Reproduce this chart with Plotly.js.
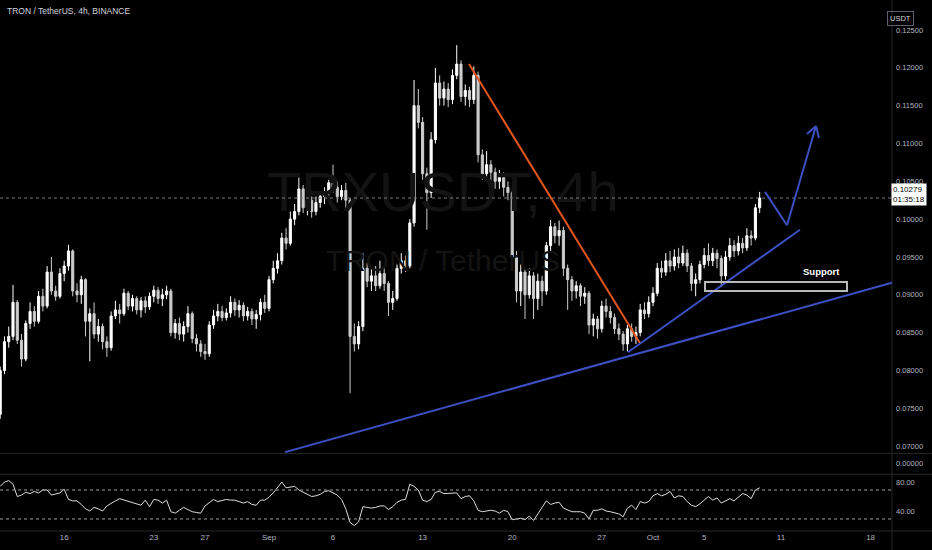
<!DOCTYPE html>
<html>
<head>
<meta charset="utf-8">
<script src="https://cdn.plot.ly/plotly-3.0.1.min.js"></script>
<style>html,body{margin:0;padding:0;background:#000;}#chart{width:932px;height:550px;}</style>
</head>
<body>
<div id="chart"></div>
<script>
// 8h candles, TRX/USDT, starting 2021-08-11 00:00, 3 per day
const startTime = '2021-08-11T00:00:00Z';
const stepHours = 8;

const openP = [
0.0742,0.0800,0.0838, 0.0845,0.0890,0.0840, 0.0815,0.0862,0.0878, 0.0865,0.0898,0.0885,
0.0930,0.0905,0.0898, 0.0928,0.0938,0.0958, 0.0905,0.0900,0.0920, 0.0865,0.0875,0.0848,
0.0858,0.0838,0.0830, 0.0872,0.0880,0.0875, 0.0902,0.0885,0.0895, 0.0880,0.0892,0.0884,
0.0898,0.0906,0.0895, 0.0900,0.0905,0.0850, 0.0862,0.0848,0.0858, 0.0875,0.0842,0.0835,
0.0825,0.0822,0.0860, 0.0872,0.0878,0.0870, 0.0876,0.0890,0.0880, 0.0886,0.0872,0.0878,
0.0868,0.0874,0.0890, 0.0882,0.0920,0.0935, 0.0945,0.0975,0.0968, 0.1000,0.1010,0.1040,
0.1015,0.1025,0.1010, 0.1022,0.1030,0.1035, 0.1048,0.1042,0.1030, 0.1038,0.1025,0.0845,
0.0835,0.0858,0.0935, 0.0918,0.0925,0.0912, 0.0928,0.0915,0.0890, 0.0895,0.0935,0.0945,
0.0938,0.0995,0.1150, 0.1128,0.1060,0.1035, 0.1105,0.1180,0.1160, 0.1172,0.1158,0.1190,
0.1205,0.1162,0.1170, 0.1158,0.1190,0.1085, 0.1060,0.1072,0.1062, 0.1050,0.1055,0.1042,
0.1035,0.0950,0.0905, 0.0930,0.0900,0.0925, 0.0895,0.0918,0.0905, 0.0965,0.0990,0.0978,
0.0985,0.0935,0.0920, 0.0905,0.0912,0.0898, 0.0902,0.0860,0.0868, 0.0855,0.0885,0.0878,
0.0870,0.0855,0.0848, 0.0835,0.0855,0.0845, 0.0850,0.0880,0.0875, 0.0890,0.0902,0.0935,
0.0930,0.0945,0.0938, 0.0950,0.0942,0.0955, 0.0938,0.0915,0.0920, 0.0940,0.0952,0.0945,
0.0955,0.0948,0.0925, 0.0950,0.0965,0.0958, 0.0968,0.0962,0.0978, 0.0975,0.1015
];
const highP = [
0.0805,0.0845,0.0858, 0.0913,0.0893,0.0848, 0.0866,0.0890,0.0885, 0.0905,0.0908,0.0938,
0.0950,0.0912,0.0935, 0.0945,0.0966,0.0960, 0.0915,0.0925,0.0922, 0.0882,0.0890,0.0868,
0.0862,0.0845,0.0878, 0.0892,0.0888,0.0908, 0.0905,0.0900,0.0898, 0.0897,0.0898,0.0903,
0.0912,0.0910,0.0908, 0.0912,0.0908,0.0868, 0.0870,0.0865,0.0885, 0.0878,0.0848,0.0840,
0.0835,0.0865,0.0880, 0.0888,0.0885,0.0882, 0.0898,0.0895,0.0893, 0.0890,0.0884,0.0882,
0.0880,0.0895,0.0900, 0.0925,0.0945,0.0955, 0.0982,0.0988,0.1010, 0.1020,0.1055,0.1045,
0.1032,0.1030,0.1030, 0.1035,0.1042,0.1052, 0.1072,0.1050,0.1045, 0.1048,0.1028,0.0862,
0.0865,0.0955,0.0942, 0.0935,0.0938,0.0945, 0.0935,0.0918,0.0905, 0.0940,0.0955,0.0952,
0.1000,0.1184,0.1172, 0.1135,0.1068,0.1115, 0.1200,0.1190,0.1182, 0.1180,0.1198,0.1230,
0.1210,0.1178,0.1175, 0.1202,0.1195,0.1092, 0.1090,0.1078,0.1068, 0.1065,0.1062,0.1050,
0.1038,0.0958,0.0940, 0.0935,0.0935,0.0930, 0.0928,0.0925,0.0970, 0.0999,0.0995,0.0998,
0.0990,0.0940,0.0925, 0.0918,0.0915,0.0910, 0.0905,0.0875,0.0872, 0.0892,0.0895,0.0885,
0.0875,0.0862,0.0852, 0.0860,0.0862,0.0858, 0.0888,0.0890,0.0898, 0.0910,0.0942,0.0945,
0.0955,0.0958,0.0960, 0.0962,0.0965,0.0960, 0.0942,0.0928,0.0945, 0.0962,0.0968,0.0962,
0.0960,0.0952,0.0958, 0.0975,0.0972,0.0978, 0.0975,0.0988,0.0985, 0.1020,0.1036
];
const lowP = [
0.0736,0.0795,0.0830, 0.0840,0.0835,0.0805, 0.0812,0.0855,0.0858, 0.0862,0.0878,0.0882,
0.0900,0.0892,0.0895, 0.0918,0.0932,0.0898, 0.0890,0.0888,0.0845, 0.0812,0.0842,0.0838,
0.0828,0.0818,0.0826, 0.0868,0.0862,0.0872, 0.0880,0.0878,0.0874, 0.0870,0.0876,0.0880,
0.0890,0.0888,0.0885, 0.0894,0.0845,0.0842, 0.0840,0.0838,0.0850, 0.0836,0.0825,0.0818,
0.0814,0.0818,0.0855, 0.0865,0.0865,0.0866, 0.0870,0.0872,0.0870, 0.0865,0.0866,0.0860,
0.0855,0.0866,0.0876, 0.0878,0.0915,0.0928, 0.0940,0.0960,0.0965, 0.0992,0.1005,0.1008,
0.1005,0.1002,0.1005, 0.1015,0.1020,0.1030, 0.1035,0.1022,0.1025, 0.1015,0.0770,0.0825,
0.0828,0.0852,0.0910, 0.0905,0.0905,0.0908, 0.0905,0.0872,0.0880, 0.0892,0.0928,0.0930,
0.0935,0.0990,0.1120, 0.1052,0.0986,0.1028, 0.1100,0.1150,0.1150, 0.1148,0.1152,0.1185,
0.1155,0.1150,0.1148, 0.1152,0.1075,0.1052, 0.1055,0.1050,0.1040, 0.1040,0.1030,0.1025,
0.0940,0.0890,0.0885, 0.0868,0.0895,0.0868, 0.0880,0.0885,0.0900, 0.0958,0.0968,0.0965,
0.0925,0.0880,0.0892, 0.0895,0.0885,0.0888, 0.0848,0.0845,0.0842, 0.0850,0.0870,0.0862,
0.0848,0.0840,0.0826, 0.0825,0.0838,0.0835, 0.0845,0.0868,0.0870, 0.0885,0.0898,0.0922,
0.0925,0.0930,0.0932, 0.0935,0.0938,0.0930, 0.0905,0.0898,0.0915, 0.0935,0.0938,0.0938,
0.0935,0.0910,0.0920, 0.0945,0.0950,0.0952, 0.0955,0.0958,0.0965, 0.0972,0.1008
];
const closeP = [
0.0800,0.0838,0.0845, 0.0890,0.0840,0.0815, 0.0862,0.0878,0.0865, 0.0898,0.0885,0.0930,
0.0905,0.0898,0.0928, 0.0938,0.0958,0.0905, 0.0900,0.0920,0.0865, 0.0875,0.0848,0.0858,
0.0838,0.0830,0.0872, 0.0880,0.0875,0.0902, 0.0885,0.0895,0.0880, 0.0892,0.0884,0.0898,
0.0906,0.0895,0.0900, 0.0905,0.0850,0.0862, 0.0848,0.0858,0.0875, 0.0842,0.0835,0.0825,
0.0822,0.0860,0.0872, 0.0878,0.0870,0.0876, 0.0890,0.0880,0.0886, 0.0872,0.0878,0.0868,
0.0874,0.0890,0.0882, 0.0920,0.0935,0.0945, 0.0975,0.0968,0.1000, 0.1010,0.1040,0.1015,
0.1025,0.1010,0.1022, 0.1030,0.1035,0.1048, 0.1042,0.1030,0.1038, 0.1025,0.0845,0.0835,
0.0858,0.0935,0.0918, 0.0925,0.0912,0.0928, 0.0915,0.0890,0.0895, 0.0935,0.0945,0.0938,
0.0995,0.1150,0.1128, 0.1060,0.1035,0.1105, 0.1180,0.1160,0.1172, 0.1158,0.1190,0.1205,
0.1162,0.1170,0.1158, 0.1190,0.1085,0.1060, 0.1072,0.1062,0.1050, 0.1055,0.1042,0.1035,
0.0950,0.0905,0.0930, 0.0900,0.0925,0.0895, 0.0918,0.0905,0.0965, 0.0990,0.0978,0.0985,
0.0935,0.0920,0.0905, 0.0912,0.0898,0.0902, 0.0860,0.0868,0.0855, 0.0885,0.0878,0.0870,
0.0855,0.0848,0.0835, 0.0855,0.0845,0.0850, 0.0880,0.0875,0.0890, 0.0902,0.0935,0.0930,
0.0945,0.0938,0.0950, 0.0942,0.0955,0.0938, 0.0915,0.0920,0.0940, 0.0952,0.0945,0.0955,
0.0948,0.0925,0.0950, 0.0965,0.0958,0.0968, 0.0962,0.0978,0.0975, 0.1015,0.10279
];
const rsiVals = [
75,81,83,78,61,63,67,65,68,66,70,
70,63,64,66,71,57,55,55,50,44,
41,46,44,41,48,52,55,58,56,54,
53,51,49,56,47,57,56,52,56,40,
38,42,46,43,40,39,38,48,53,57,
54,55,57,56,56,54,52,54,50,49,
56,56,60,66,73,81,73,74,75,70,
67,65,61,62,64,68,69,66,63,57,
44,25,21,26,47,46,45,46,48,48,
43,47,53,56,57,78,75,70,56,54,
57,67,68,65,65,66,66,58,
61,62,55,42,40,41,42,41,38,42,40,29,
30,31,29,34,28,38,46,55,50,52,
53,45,42,40,40,40,38,30,42,42,
44,41,40,39,37,33,45,49,43,54,
52,54,62,65,62,64,68,59,62,61,
54,49,47,51,56,61,56,59,52,55,
58,55,60,65,63,58,70,73
];
const tickDates = ['2021-08-16','2021-08-23','2021-08-27','2021-09-01','2021-09-06','2021-09-13','2021-09-20','2021-09-27','2021-10-01','2021-10-05','2021-10-11','2021-10-18'];
const tickLabels = ['16','23','27','Sep','6','13','20','27','Oct','5','11','18'];
const lastPrice = 0.10279;
const countdown = '01:35:18';

// time grid of the candles
const t0 = Date.parse(startTime);
const times = closeP.map((_, i) => new Date(t0 + i * stepHours * 3600000).toISOString().slice(0, 16).replace('T', ' '));

const fontFam = 'Liberation Sans, Arial, sans-serif';
const axisCol = '#b2b5be';
const blue = '#3d50c3';
const orange = '#e2561e';
const sep = '#262626';
const wmCol = '#131313';

const traces = [
  // watermark, drawn beneath the candles
  {
    type: 'scatter', mode: 'text', xaxis: 'x', yaxis: 'y',
    x: ['2021-09-14 14:00', '2021-09-14 14:00'], y: [0.10292, 0.09420],
    text: ['TRXUSDT, 4h', 'TRON / TetherUS'],
    textfont: {family: fontFam, size: [56, 30], color: wmCol},
    textposition: 'middle center', showlegend: false, hoverinfo: 'skip'
  },
  {
    type: 'candlestick', x: times, open: openP, high: highP, low: lowP, close: closeP,
    xaxis: 'x', yaxis: 'y',
    increasing: {line: {color: '#ffffff', width: 1}, fillcolor: '#ffffff'},
    decreasing: {line: {color: '#cdcdcd', width: 1}, fillcolor: '#cdcdcd'},
    whiskerwidth: 0, showlegend: false, hoverinfo: 'skip'
  },
  {
    type: 'scatter', mode: 'lines', x: times, y: rsiVals, xaxis: 'x', yaxis: 'y3',
    line: {color: '#dcdcdc', width: 1}, showlegend: false, hoverinfo: 'skip'
  },
  // invisible trace so the middle pane axis is drawn
  {type: 'scatter', mode: 'lines', x: [times[0]], y: [0], xaxis: 'x', yaxis: 'y2', line: {color: 'rgba(0,0,0,0)'}, showlegend: false, hoverinfo: 'skip'}
];

function ln(x0, y0, x1, y1, color, w, extra) {
  return Object.assign({type: 'line', xref: 'x', yref: 'y', x0, y0, x1, y1, line: {color, width: w}}, extra || {});
}

const shapes = [
  // last price dotted line
  {type: 'line', xref: 'paper', yref: 'y', x0: 0, x1: 1, y0: lastPrice, y1: lastPrice, line: {color: '#7a7a7a', width: 1, dash: 'dot'}},
  // pane separators
  {type: 'line', xref: 'paper', yref: 'paper', x0: 0, x1: 1.05, y0: 0.146, y1: 0.146, line: {color: sep, width: 1}},
  {type: 'line', xref: 'paper', yref: 'paper', x0: 0, x1: 1.05, y0: 0.107, y1: 0.107, line: {color: sep, width: 1}},
  {type: 'line', xref: 'paper', yref: 'paper', x0: 0, x1: 1.05, y0: 0, y1: 0, line: {color: sep, width: 1}},
  {type: 'line', xref: 'paper', yref: 'paper', x0: 1, x1: 1, y0: -0.04, y1: 1, line: {color: sep, width: 1}},
  // RSI bands
  {type: 'line', xref: 'paper', yref: 'y3', x0: 0, x1: 1, y0: 70, y1: 70, line: {color: '#a0a0a0', width: 1, dash: '3px,3px'}},
  {type: 'line', xref: 'paper', yref: 'y3', x0: 0, x1: 1, y0: 30, y1: 30, line: {color: '#a0a0a0', width: 1, dash: '3px,3px'}},
  // drawings
  ln('2021-09-16 15:00', 0.1205, '2021-09-29 23:40', 0.0836, orange, 2),
  ln('2021-09-02 06:00', 0.0692, '2021-10-19 16:00', 0.0916, blue, 2),
  ln('2021-09-29 01:00', 0.0824, '2021-10-12 11:30', 0.0986, blue, 2),
  ln('2021-10-09 18:00', 0.1036, '2021-10-11 11:15', 0.0992, blue, 2),
  ln('2021-10-11 11:15', 0.0992, '2021-10-13 17:33', 0.1123, blue, 2),
  ln('2021-10-13 17:33', 0.1123, '2021-10-13 00:45', 0.11125, blue, 2),
  ln('2021-10-13 17:33', 0.1123, '2021-10-13 23:15', 0.11072, blue, 2),
  {type: 'rect', xref: 'x', yref: 'y', x0: '2021-10-05 01:30', x1: '2021-10-16 03:45', y0: 0.0905, y1: 0.0917, line: {color: '#b8b8b8', width: 2}, fillcolor: 'rgba(0,0,0,0)'}
];

const annotations = [
  {xref: 'paper', yref: 'paper', x: 0.0056, y: 0.979, xanchor: 'left', yanchor: 'middle', showarrow: false,
   text: 'TRON / TetherUS, 4h, BINANCE', font: {family: fontFam, size: 8.5, color: '#d1d4dc'}},
  {xref: 'x', yref: 'y', x: '2021-10-14 04:00', y: 0.0931, showarrow: false, text: '<b>Support</b>',
   font: {family: fontFam, size: 9.5, color: '#ffffff'}},
  {xref: 'paper', yref: 'paper', x: 1.0247, y: 0.979, showarrow: false, text: 'USDT',
   font: {family: fontFam, size: 7.5, color: '#d1d4dc'}, bordercolor: '#5d606b', borderwidth: 1, borderpad: 2},
  {xref: 'paper', yref: 'paper', x: 0.999, y: 0.633, xanchor: 'left', yanchor: 'middle', showarrow: false, align: 'left',
   text: lastPrice.toFixed(5) + '<br>' + countdown, bgcolor: '#ffffff', borderpad: 1,
   font: {family: fontFam, size: 8, color: '#000000'}}
];

const layout = {
  width: 932, height: 550,
  margin: {l: 0, r: 40, t: 0, b: 19},
  paper_bgcolor: '#000000', plot_bgcolor: '#000000',
  font: {family: fontFam, color: axisCol},
  showlegend: false,
  xaxis: {
    type: 'date', anchor: 'y3', range: ['2021-08-10 23:37', '2021-10-19 16:07'],
    rangeslider: {visible: false}, showgrid: false, zeroline: false, showline: false,
    tickvals: tickDates, ticktext: tickLabels, ticks: '', tickfont: {size: 8, color: axisCol}
  },
  yaxis: {
    domain: [0.147, 1], range: [0.06909, 0.12897], side: 'right', anchor: 'x',
    dtick: 0.005, tick0: 0.07, tickformat: '.5f', showgrid: false, zeroline: false, ticks: '',
    tickfont: {size: 7.5, color: axisCol}, ticklabelstandoff: 3
  },
  yaxis2: {
    domain: [0.108, 0.145], range: [-1, 1], side: 'right', anchor: 'x',
    tickvals: [0], ticktext: ['0.00000'], showgrid: false, zeroline: false, ticks: '',
    tickfont: {size: 7.5, color: axisCol}, ticklabelstandoff: 3
  },
  yaxis3: {
    domain: [0, 0.106], range: [13.4, 91.1], side: 'right', anchor: 'x',
    tickvals: [40, 80], tickformat: '.2f', showgrid: false, zeroline: false, ticks: '',
    tickfont: {size: 7.5, color: axisCol}, ticklabelstandoff: 3
  },
  shapes, annotations
};

Plotly.newPlot('chart', traces, layout, {staticPlot: true, displayModeBar: false});
</script>
</body>
</html>
